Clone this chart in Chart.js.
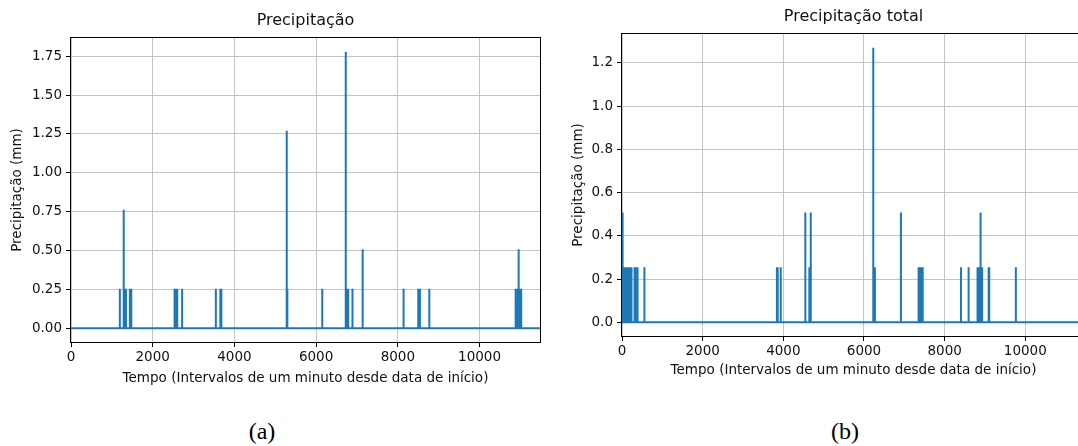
<!DOCTYPE html>
<html>
<head>
<meta charset="utf-8">
<script src="https://cdn.jsdelivr.net/npm/chart.js@4"></script>
<style>
  html, body { margin: 0; padding: 0; background: #fff; }
  body { width: 1078px; height: 446px; overflow: hidden; position: relative; }
  canvas { position: absolute; top: 0; }
  #chartA { left: 0; }
  #chartB { left: 548px; }
  .legenda { position: absolute; top: 418px; font-family: "Liberation Serif", serif; font-size: 24px; color: #000; transform: translateX(-50%); }
</style>
</head>
<body>
<canvas id="chartA" width="548" height="400"></canvas>
<canvas id="chartB" width="545" height="400"></canvas>
<div class="legenda" style="left:262px">(a)</div>
<div class="legenda" style="left:845px">(b)</div>
<script>
// Minutos (desde o início) em que houve chuva e quanto choveu (mm)
const minutosA = [1195, 1290, 1300, 1345, 1440, 1475, 2535, 2555, 2575, 2600, 2720, 3545, 3655, 3680,
    5280, 5295, 6150, 6725, 6745, 6765, 6785, 6890, 7130, 7145, 8140, 8500, 8540, 8770,
    10875, 10890, 10905, 10920, 10935, 10950, 10962, 10975, 10990, 11005, 11020];
const chuvaA = [0.254, 0.762, 0.254, 0.254, 0.254, 0.254, 0.254, 0.254, 0.254, 0.254, 0.254, 0.254, 0.254, 0.254,
    1.27, 0.254, 0.254, 1.778, 0.254, 0.254, 0.254, 0.254, 0.508, 0.254, 0.254, 0.254, 0.254, 0.254,
    0.254, 0.254, 0.254, 0.254, 0.254, 0.254, 0.508, 0.254, 0.254, 0.254, 0.254];

const minutosB = [10, 20, 30, 40, 50, 60, 70, 80, 90, 100, 110, 120, 130, 140, 150, 160, 170, 180, 190, 200,
    210, 220, 230, 240, 310, 340, 385, 555, 3840, 3860, 3935, 4545, 4645, 4680, 6230, 6270, 6915,
    7345, 7360, 7375, 7390, 7405, 7420, 7435, 7455, 8405, 8585, 8600, 8815, 8840, 8890, 8930,
    9090, 9105, 9765];
const chuvaB = [0.508, 0.254, 0.254, 0.254, 0.254, 0.254, 0.254, 0.254, 0.254, 0.254, 0.254, 0.254, 0.254, 0.254, 0.254, 0.254, 0.254, 0.254, 0.254, 0.254,
    0.254, 0.254, 0.254, 0.254, 0.254, 0.254, 0.254, 0.254, 0.254, 0.254, 0.254, 0.508, 0.254, 0.508, 1.27, 0.254, 0.508,
    0.254, 0.254, 0.254, 0.254, 0.254, 0.254, 0.254, 0.254, 0.254, 0.254, 0.254, 0.254, 0.254, 0.508, 0.254,
    0.254, 0.254, 0.254];

// Marcas dos eixos
const marcasX = [0, 2000, 4000, 6000, 8000, 10000];
const marcasYA = [0, 0.25, 0.5, 0.75, 1.0, 1.25, 1.5, 1.75];
const marcasYB = [0, 0.2, 0.4, 0.6, 0.8, 1.0, 1.2];

// Duração total da série (minutos)
const duracao = 11480;

// Monta a série minuto a minuto: zero fora dos minutos com chuva
function montaSerie(minutos, chuva) {
    const pontos = [{x: 0, y: 0}];
    minutos.forEach((m, i) => {
        pontos.push({x: m - 1, y: 0}, {x: m, y: chuva[i]}, {x: m + 1, y: 0});
    });
    pontos.push({x: duracao, y: 0});
    return pontos;
}

// Moldura preta em volta da área do gráfico (como no matplotlib)
const moldura = {
    id: 'moldura',
    afterDatasetsDraw(chart) {
        const {ctx, chartArea: a} = chart;
        ctx.save();
        ctx.strokeStyle = '#000';
        ctx.lineWidth = 1;
        ctx.strokeRect(Math.round(a.left) - 0.5, Math.round(a.top) - 0.5,
            Math.round(a.right) - Math.round(a.left) + 1, Math.round(a.bottom) - Math.round(a.top) + 1);
        ctx.restore();
    }
};

const fonte = {family: "'DejaVu Sans', sans-serif", size: 13.5};
const corTexto = '#111';

function criaGrafico(id, titulo, dados, marcasY, o) {
    const maximo = Math.max(...dados.map(p => p.y));
    const margem = maximo * 0.05;
    return new Chart(document.getElementById(id), {
        type: 'line',
        data: {
            datasets: [{
                data: dados,
                borderColor: '#1f77b4',
                borderWidth: 2,
                pointRadius: 0,
                tension: 0
            }]
        },
        options: {
            responsive: false,
            animation: false,
            layout: {padding: {left: 0, right: 8, top: 0, bottom: 0}},
            plugins: {
                legend: {display: false},
                tooltip: {enabled: false},
                title: {
                    display: true,
                    text: titulo,
                    fullSize: false,
                    color: corTexto,
                    font: {family: fonte.family, size: 16, weight: 'normal'},
                    padding: {top: o.tituloTopo, bottom: o.tituloBase}
                }
            },
            scales: {
                x: {
                    type: 'linear',
                    min: 0,
                    max: duracao,
                    afterBuildTicks: s => { s.ticks = marcasX.map(v => ({value: v})); },
                    afterFit: s => { s.height = o.alturaX; },
                    ticks: {
                        autoSkip: false,
                        maxRotation: 0,
                        padding: 2,
                        color: corTexto,
                        font: fonte,
                        callback: v => String(v)
                    },
                    grid: {color: '#c4c4c4', lineWidth: 1, tickColor: '#000', tickLength: 5},
                    border: {display: false},
                    title: {
                        display: true,
                        text: 'Tempo (Intervalos de um minuto desde data de início)',
                        color: corTexto,
                        font: fonte,
                        padding: {top: 0, bottom: o.tituloXBase}
                    }
                },
                y: {
                    type: 'linear',
                    min: -margem,
                    max: maximo + margem,
                    afterBuildTicks: s => { s.ticks = marcasY.map(v => ({value: v})); },
                    afterFit: s => { s.width = o.larguraY; },
                    ticks: {
                        autoSkip: false,
                        padding: 4,
                        color: corTexto,
                        font: fonte,
                        callback: v => v.toFixed(o.casas)
                    },
                    grid: {color: '#c4c4c4', lineWidth: 1, tickColor: '#000', tickLength: 5},
                    border: {display: false},
                    title: {
                        display: true,
                        text: 'Precipitação (mm)',
                        color: corTexto,
                        font: fonte,
                        padding: {top: o.tituloYTopo, bottom: 0}
                    }
                }
            }
        },
        plugins: [moldura]
    });
}

document.addEventListener('DOMContentLoaded', function() {
    criaGrafico('chartA', 'Precipitação', montaSerie(minutosA, chuvaA), marcasYA, {
        tituloTopo: 11, tituloBase: 7.8, alturaX: 58, larguraY: 71,
        tituloXBase: 13, tituloYTopo: 9, casas: 2
    });
    criaGrafico('chartB', 'Precipitação total', montaSerie(minutosB, chuvaB), marcasYB, {
        tituloTopo: 7.4, tituloBase: 7.4, alturaX: 64, larguraY: 74,
        tituloXBase: 21, tituloYTopo: 22, casas: 1
    });
});
</script>
</body>
</html>
